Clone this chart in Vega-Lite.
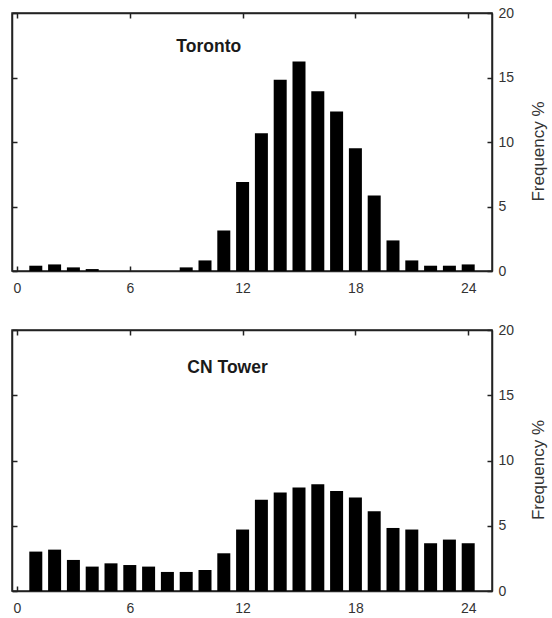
{
  "$schema": "https://vega.github.io/schema/vega-lite/v6.json",
  "background": "white",
  "autosize": {"type": "pad"},
  "padding": {"left": 10, "top": 5, "right": 0, "bottom": 0},
  "config": {
    "font": "Liberation Sans",
    "view": {"stroke": "#222", "strokeWidth": 1.5},
    "axis": {
      "grid": false,
      "domain": true,
      "domainColor": "#222",
      "domainWidth": 1.5,
      "tickColor": "#222",
      "tickWidth": 1.5,
      "tickSize": -5,
      "labelFont": "Liberation Sans",
      "labelFontSize": 14,
      "labelColor": "#333",
      "titleFont": "Liberation Sans",
      "titleFontSize": 17,
      "titleFontWeight": "normal",
      "titleColor": "#333"
    }
  },
  "datasets": {
    "toronto": [
      {"hour": 1, "freq": 0.41}, {"hour": 2, "freq": 0.51}, {"hour": 3, "freq": 0.28}, {"hour": 4, "freq": 0.15},
      {"hour": 5, "freq": 0}, {"hour": 6, "freq": 0}, {"hour": 7, "freq": 0}, {"hour": 8, "freq": 0},
      {"hour": 9, "freq": 0.28}, {"hour": 10, "freq": 0.82}, {"hour": 11, "freq": 3.14}, {"hour": 12, "freq": 6.9},
      {"hour": 13, "freq": 10.67}, {"hour": 14, "freq": 14.83}, {"hour": 15, "freq": 16.25}, {"hour": 16, "freq": 13.93},
      {"hour": 17, "freq": 12.37}, {"hour": 18, "freq": 9.51}, {"hour": 19, "freq": 5.86}, {"hour": 20, "freq": 2.37},
      {"hour": 21, "freq": 0.82}, {"hour": 22, "freq": 0.41}, {"hour": 23, "freq": 0.41}, {"hour": 24, "freq": 0.51}
    ],
    "cntower": [
      {"hour": 1, "freq": 3.02}, {"hour": 2, "freq": 3.17}, {"hour": 3, "freq": 2.38}, {"hour": 4, "freq": 1.87},
      {"hour": 5, "freq": 2.12}, {"hour": 6, "freq": 1.99}, {"hour": 7, "freq": 1.87}, {"hour": 8, "freq": 1.46},
      {"hour": 9, "freq": 1.46}, {"hour": 10, "freq": 1.61}, {"hour": 11, "freq": 2.89}, {"hour": 12, "freq": 4.71},
      {"hour": 13, "freq": 7.0}, {"hour": 14, "freq": 7.54}, {"hour": 15, "freq": 7.93}, {"hour": 16, "freq": 8.18},
      {"hour": 17, "freq": 7.67}, {"hour": 18, "freq": 7.16}, {"hour": 19, "freq": 6.11}, {"hour": 20, "freq": 4.83},
      {"hour": 21, "freq": 4.71}, {"hour": 22, "freq": 3.66}, {"hour": 23, "freq": 3.94}, {"hour": 24, "freq": 3.66}
    ]
  },
  "bounds": "flush",
  "spacing": 59,
  "vconcat": [
    {
      "width": 480,
      "height": 258,
      "resolve": {"axis": {"x": "independent", "y": "independent"}},
      "layer": [
        {
          "data": {"name": "toronto"},
          "mark": {"type": "bar", "color": "black", "size": 13},
          "encoding": {
            "x": {"field": "hour", "type": "quantitative", "scale": {"domain": [0, 25], "nice": false},
                  "axis": {"orient": "bottom", "values": [0, 6, 12, 18, 24], "title": null, "labelPadding": 15}},
            "y": {"field": "freq", "type": "quantitative", "scale": {"domain": [0, 20], "nice": false},
                  "axis": {"orient": "left", "values": [0, 5, 10, 15, 20], "labels": false, "title": null}}
          }
        },
        {
          "data": {"name": "toronto"},
          "mark": {"type": "bar", "opacity": 0, "size": 13},
          "encoding": {
            "x": {"field": "hour", "type": "quantitative",
                  "axis": {"orient": "top", "values": [0, 6, 12, 18, 24], "labels": false, "title": null}},
            "y": {"field": "freq", "type": "quantitative",
                  "axis": {"orient": "right", "values": [0, 5, 10, 15, 20], "title": "Frequency %", "titleAngle": -90, "titleY": 138, "labelPadding": 11, "titlePadding": 34}}
          }
        },
        {
          "data": {"values": [{"label": "Toronto"}]},
          "mark": {"type": "text", "fontSize": 17.5, "fontWeight": "bold", "color": "#1a1a1a", "align": "center", "baseline": "middle"},
          "encoding": {
            "x": {"datum": 10.2, "type": "quantitative", "axis": null},
            "y": {"datum": 17.35, "type": "quantitative", "axis": null},
            "text": {"field": "label"}
          }
        }
      ]
    },
    {
      "width": 480,
      "height": 261,
      "resolve": {"axis": {"x": "independent", "y": "independent"}},
      "layer": [
        {
          "data": {"name": "cntower"},
          "mark": {"type": "bar", "color": "black", "size": 13},
          "encoding": {
            "x": {"field": "hour", "type": "quantitative", "scale": {"domain": [0, 25], "nice": false},
                  "axis": {"orient": "bottom", "values": [0, 6, 12, 18, 24], "title": null, "labelPadding": 15}},
            "y": {"field": "freq", "type": "quantitative", "scale": {"domain": [0, 20], "nice": false},
                  "axis": {"orient": "left", "values": [0, 5, 10, 15, 20], "labels": false, "title": null}}
          }
        },
        {
          "data": {"name": "cntower"},
          "mark": {"type": "bar", "opacity": 0, "size": 13},
          "encoding": {
            "x": {"field": "hour", "type": "quantitative",
                  "axis": {"orient": "top", "values": [0, 6, 12, 18, 24], "labels": false, "title": null}},
            "y": {"field": "freq", "type": "quantitative",
                  "axis": {"orient": "right", "values": [0, 5, 10, 15, 20], "title": "Frequency %", "titleAngle": -90, "titleY": 139.5, "labelPadding": 11, "titlePadding": 34}}
          }
        },
        {
          "data": {"values": [{"label": "CN Tower"}]},
          "mark": {"type": "text", "fontSize": 17.5, "fontWeight": "bold", "color": "#1a1a1a", "align": "center", "baseline": "middle"},
          "encoding": {
            "x": {"datum": 11.2, "type": "quantitative", "axis": null},
            "y": {"datum": 17.1, "type": "quantitative", "axis": null},
            "text": {"field": "label"}
          }
        }
      ]
    }
  ]
}
